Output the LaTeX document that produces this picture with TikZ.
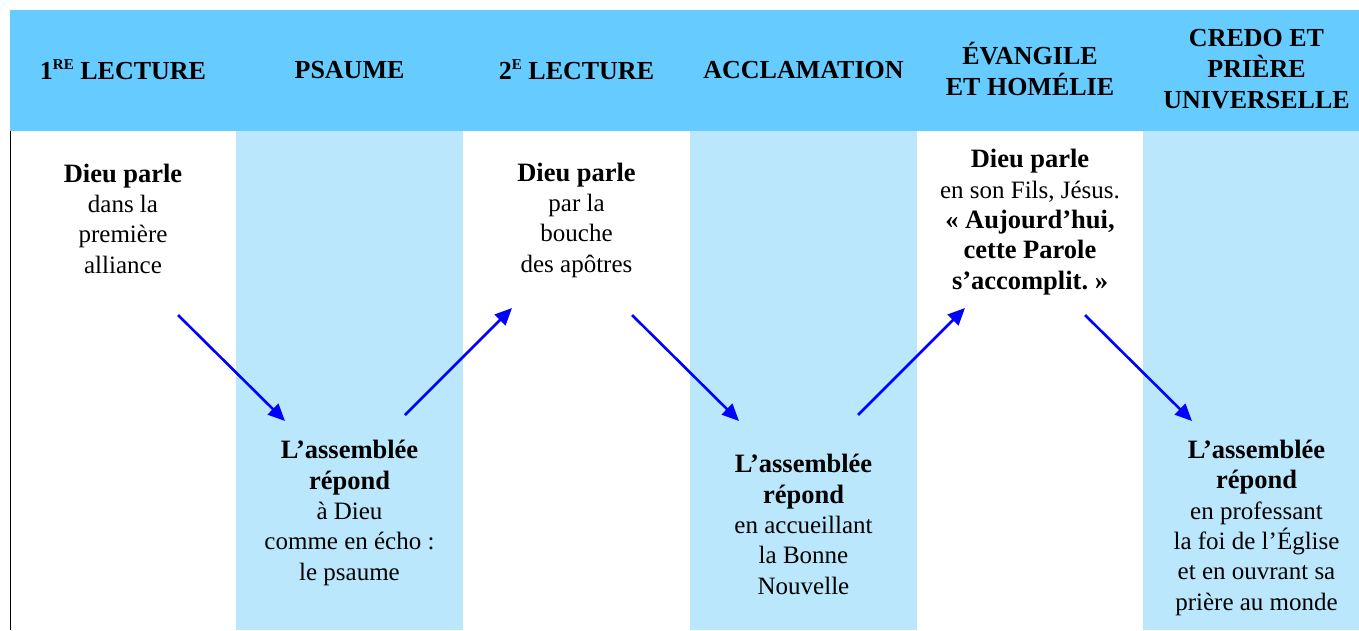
\documentclass[tikz,border=0pt]{standalone}
\usepackage{fontspec}
\setmainfont{Liberation Serif}
\usetikzlibrary{arrows.meta}
\definecolor{hdrblue}{HTML}{66CCFF}
\definecolor{colblue}{HTML}{BBE7FD}
\definecolor{arrblue}{HTML}{0000FF}
\tikzset{
  hdr/.style={font=\bfseries\fontsize{26}{31}\selectfont, align=center, anchor=center, inner sep=0pt},
  body/.style={font=\fontsize{25}{30.3}\selectfont, align=center, anchor=base, inner sep=0pt},
  flow/.style={draw=arrblue, line width=2.6pt, -{Triangle[length=17pt,width=15pt]}},
}
\newcommand{\supsc}[1]{\raisebox{10pt}{\fontsize{15}{15}\selectfont #1}}
\newcommand{\bl}[1]{{\bfseries\fontsize{26.5}{30.3}\selectfont #1}}
\begin{document}
\begin{tikzpicture}[x=1pt,y=-1pt]
  \useasboundingbox (0,0) rectangle (1359,630);
  % column bands
  \fill[colblue] (236,131) rectangle (463,630);
  \fill[colblue] (690,131) rectangle (917,630);
  \fill[colblue] (1143,131) rectangle (1359,630);
  % header band
  \fill[hdrblue] (10,10) rectangle (1359,131);
  % left rule
  \draw[line width=1.2pt] (10.6,131) -- (10.6,630);
  % headers
  \node[hdr] (h1) at (123,70) {1\supsc{RE} LECTURE};
  \node[hdr] (h2) at (349.5,70) {PSAUME};
  \node[hdr] (h3) at (576.5,70) {2\supsc{E} LECTURE};
  \node[hdr] (h4) at (803.5,70) {ACCLAMATION};
  \node[hdr] (h5) at (1030,69) {ÉVANGILE\\ET HOMÉLIE};
  \node[hdr] (h6) at (1256.5,69) {CREDO ET\\PRIÈRE\\UNIVERSELLE};
  % body texts (anchored at the baseline of the last line)
  \node[body] (t1) at (123,273) {\bl{Dieu parle}\\dans la\\première\\alliance};
  \node[body] (t2) at (349.5,580) {\bl{L’assemblée}\\\bl{répond}\\à Dieu\\comme en écho~:\\le psaume};
  \node[body] (t3) at (576.5,272) {\bl{Dieu parle}\\par la\\bouche\\des apôtres};
  \node[body] (t4) at (803.5,594) {\bl{L’assemblée}\\\bl{répond}\\en accueillant\\la Bonne\\Nouvelle};
  \node[body] (t5) at (1030,289) {\bl{Dieu parle}\\en son Fils, Jésus.\\\bl{«~Aujourd’hui,}\\\bl{cette Parole}\\\bl{s’accomplit.~»}};
  \node[body] (t6) at (1256.5,610) {\bl{L’assemblée}\\\bl{répond}\\en professant\\la foi de l’Église\\et en ouvrant sa\\prière au monde};
  % arrow end points
  \coordinate (a1s) at (178,315);  \coordinate (a1e) at (285,421);
  \coordinate (a2s) at (405,415);  \coordinate (a2e) at (512,308);
  \coordinate (a3s) at (632,315);  \coordinate (a3e) at (739,421);
  \coordinate (a4s) at (858,415);  \coordinate (a4e) at (965,308);
  \coordinate (a5s) at (1085,315); \coordinate (a5e) at (1192,421);
  \draw[flow] (a1s) -- (a1e);
  \draw[flow] (a2s) -- (a2e);
  \draw[flow] (a3s) -- (a3e);
  \draw[flow] (a4s) -- (a4e);
  \draw[flow] (a5s) -- (a5e);
\end{tikzpicture}
\end{document}
